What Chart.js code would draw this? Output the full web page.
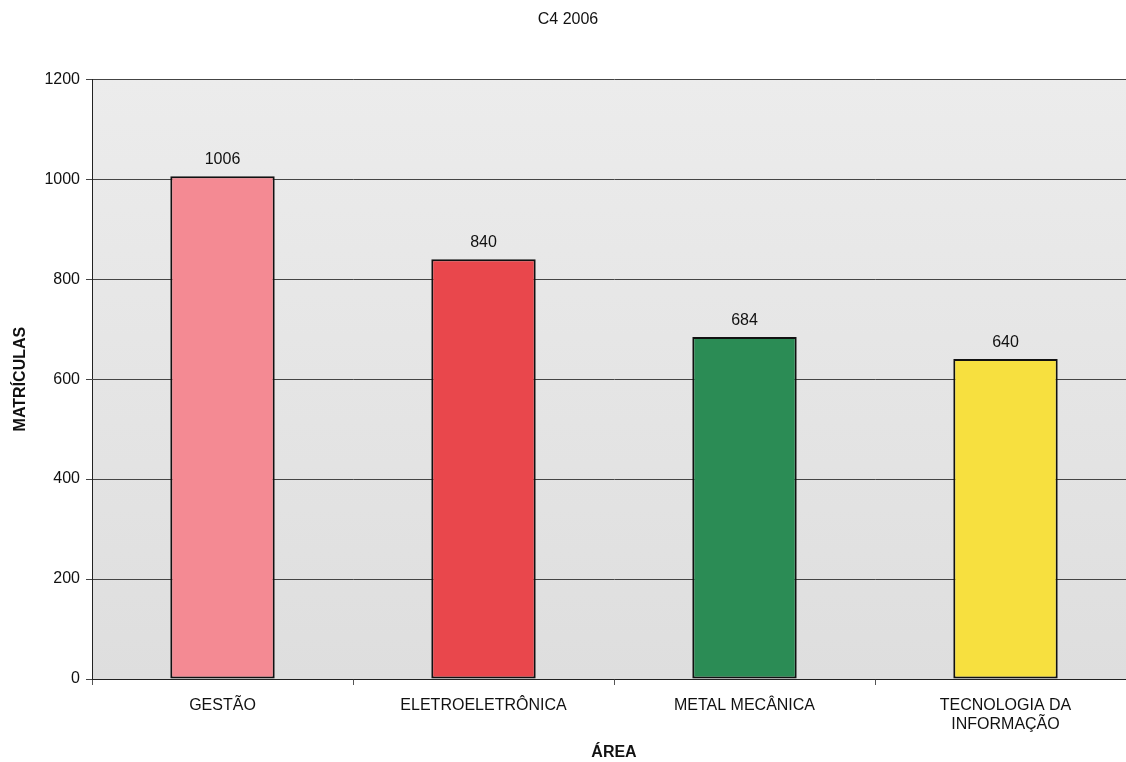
<!DOCTYPE html>
<html>
<head>
<meta charset="utf-8">
<title>C4 2006</title>
<script src="https://cdn.jsdelivr.net/npm/chart.js@4/dist/chart.umd.min.js"></script>
<style>
    html, body {
        margin: 0;
        padding: 0;
        background: #ffffff;
        overflow: hidden;
    }
    #wrap {
        width: 1140px;
        height: 762px;
    }
</style>
</head>
<body>
<div id="wrap">
    <canvas id="areaChart" width="1140" height="762"></canvas>
</div>
<script>
const categories = [
    "GESTÃO",
    "ELETROELETRÔNICA",
    "METAL MECÂNICA",
    ["TECNOLOGIA DA", "INFORMAÇÃO"]
];

const matriculas = [1006, 840, 684, 640];

const barColors = ["#f48a93", "#e9474c", "#2b8c55", "#f7e03f"];

const yTicks = [0, 200, 400, 600, 800, 1000, 1200];

const FONT = "'Liberation Sans', Arial, sans-serif";

// gray plot background, a bit lighter at the top
const plotBackground = {
    id: "plotBackground",
    beforeDraw(chart) {
        const { ctx, chartArea: a } = chart;
        const g = ctx.createLinearGradient(0, a.top, 0, a.bottom);
        g.addColorStop(0, "#ececec");
        g.addColorStop(1, "#dedede");
        ctx.save();
        ctx.fillStyle = g;
        ctx.fillRect(a.left, a.top, a.right - a.left, a.bottom - a.top);
        ctx.restore();
    }
};

// value printed above each bar
const valueLabels = {
    id: "valueLabels",
    afterDatasetsDraw(chart) {
        const { ctx } = chart;
        const meta = chart.getDatasetMeta(0);
        ctx.save();
        ctx.font = "16px " + FONT;
        ctx.fillStyle = "#111111";
        ctx.textAlign = "center";
        ctx.textBaseline = "bottom";
        meta.data.forEach((bar, i) => {
            ctx.fillText(String(matriculas[i]), bar.x, bar.y - 9);
        });
        ctx.restore();
    }
};

new Chart(document.getElementById("areaChart"), {
    type: "bar",
    data: {
        labels: categories,
        datasets: [
            {
                data: matriculas,
                backgroundColor: barColors,
                borderColor: "#111111",
                borderWidth: 2,
                borderSkipped: false,
                barPercentage: 0.4,
                categoryPercentage: 1
            }
        ]
    },
    options: {
        responsive: false,
        animation: false,
        layout: {
            padding: { left: 0, right: 4, top: 0, bottom: 0 }
        },
        plugins: {
            legend: { display: false },
            tooltip: { enabled: false },
            title: {
                display: true,
                text: "C4 2006",
                color: "#111111",
                font: { family: FONT, size: 16, weight: "normal" },
                padding: { top: 10, bottom: 50 }
            }
        },
        scales: {
            x: {
                offset: true,
                grid: {
                    offset: true,
                    drawOnChartArea: false,
                    tickLength: 6,
                    color: "#555555"
                },
                border: { color: "#222222", width: 1 },
                ticks: {
                    color: "#111111",
                    padding: 11,
                    maxRotation: 0,
                    font: { family: FONT, size: 16, lineHeight: 1.2 }
                },
                title: {
                    display: true,
                    text: "ÁREA",
                    color: "#111111",
                    font: { family: FONT, size: 16, weight: "bold" },
                    padding: { top: 0, bottom: 0 }
                },
                afterFit(scale) {
                    scale.height = 83;
                }
            },
            y: {
                min: 0,
                max: 1200,
                afterBuildTicks(scale) {
                    scale.ticks = yTicks.map(v => ({ value: v }));
                },
                grid: {
                    color: "#444444",
                    lineWidth: 1,
                    tickLength: 6
                },
                border: { color: "#222222", width: 1 },
                ticks: {
                    color: "#111111",
                    padding: 6,
                    font: { family: FONT, size: 16 },
                    callback: v => String(v)
                },
                title: {
                    display: true,
                    text: "MATRÍCULAS",
                    color: "#111111",
                    font: { family: FONT, size: 16, weight: "bold" },
                    padding: { top: 11, bottom: 0 }
                },
                afterFit(scale) {
                    scale.width = 92;
                }
            }
        }
    },
    plugins: [plotBackground, valueLabels]
});
</script>
</body>
</html>
